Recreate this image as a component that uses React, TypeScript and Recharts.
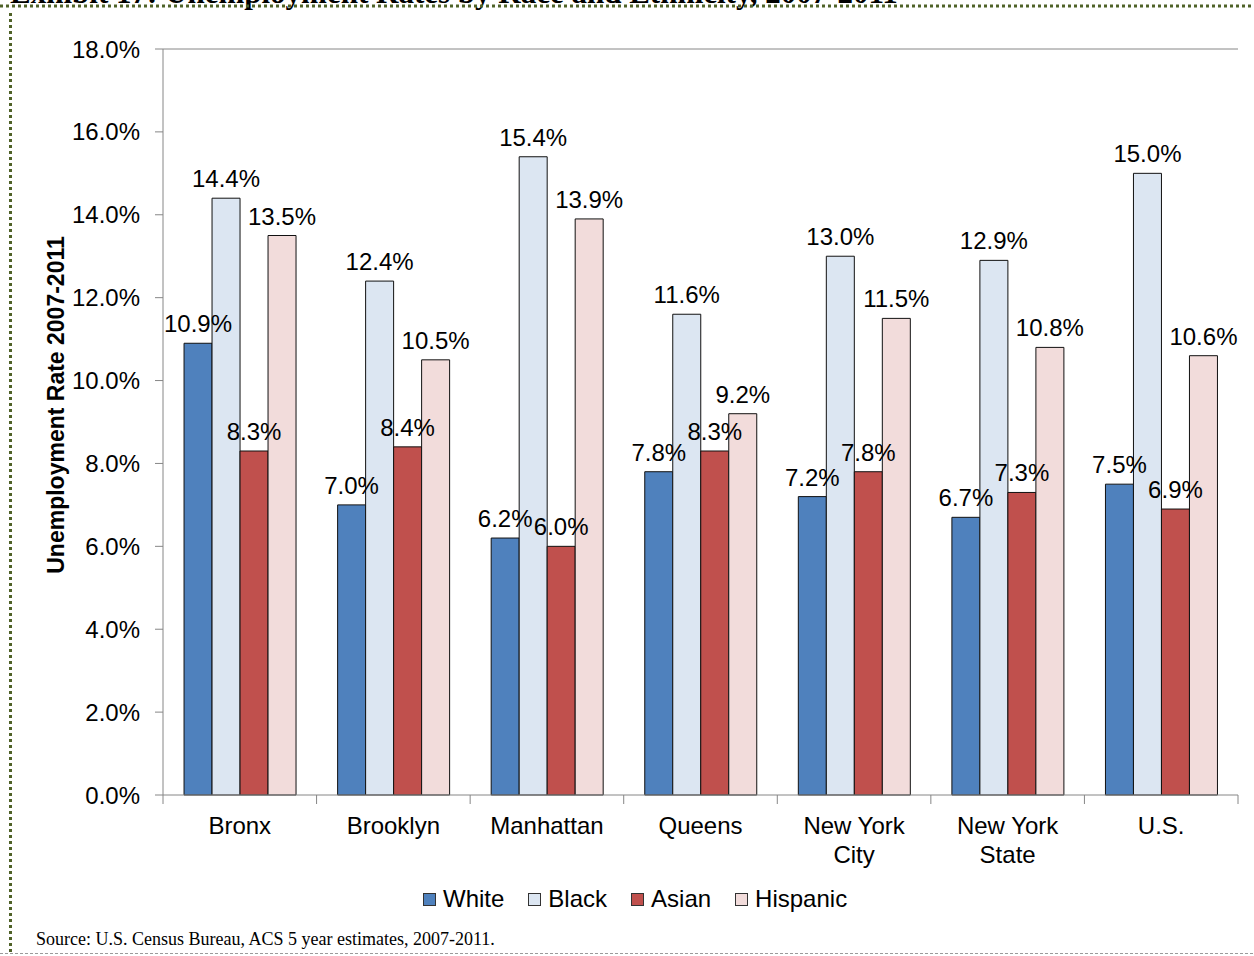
import { BarChart, Bar, XAxis, YAxis, LabelList, ReferenceLine } from "recharts"

const areas = ["Bronx", "Brooklyn", "Manhattan", "Queens", "New York\nCity", "New York\nState", "U.S."]
const white = [10.9, 7.0, 6.2, 7.8, 7.2, 6.7, 7.5]
const black = [14.4, 12.4, 15.4, 11.6, 13.0, 12.9, 15.0]
const asian = [8.3, 8.4, 6.0, 8.3, 7.8, 7.3, 6.9]
const hispanic = [13.5, 10.5, 13.9, 9.2, 11.5, 10.8, 10.6]
const yTicks = [0, 2, 4, 6, 8, 10, 12, 14, 16, 18]

const series = [
  { key: "White", fill: "#4F81BD" },
  { key: "Black", fill: "#DCE6F2" },
  { key: "Asian", fill: "#C0504D" },
  { key: "Hispanic", fill: "#F2DCDB" },
]

const data = areas.map((name, i) => ({
  name,
  White: white[i],
  Black: black[i],
  Asian: asian[i],
  Hispanic: hispanic[i],
}))

const FONT = '"Liberation Sans", Arial, sans-serif'
const SERIF = '"Liberation Serif", "Times New Roman", serif'
const PLOT_LEFT = 163
const PLOT_RIGHT = 1238
const BAND = (PLOT_RIGHT - PLOT_LEFT) / areas.length
const AXIS = "#868686"

const pct = (v: number) => `${v.toFixed(1)}%`

function AreaTick(props: any) {
  const { x, y, payload, index } = props
  const lines = String(payload.value).split("\n")
  return (
    <g>
      <line x1={x - BAND / 2} y1={y} x2={x - BAND / 2} y2={y + 9} stroke={AXIS} />
      {index === areas.length - 1 && (
        <line x1={x + BAND / 2} y1={y} x2={x + BAND / 2} y2={y + 9} stroke={AXIS} />
      )}
      <text x={x} y={y + 39} textAnchor="middle" fontSize={24} fontFamily={FONT} fill="#000">
        {lines.map((l, i) => (
          <tspan key={i} x={x} dy={i === 0 ? 0 : 29}>
            {l}
          </tspan>
        ))}
      </text>
    </g>
  )
}

export default function App() {
  return (
    <div style={{ position: "absolute", left: 0, top: 0, width: 1254, height: 956, background: "#fff", overflow: "hidden" }}>
      {/* exhibit title, mostly above the top edge like in the scan */}
      <div
        style={{
          position: "absolute",
          left: 10,
          top: -23,
          fontFamily: SERIF,
          fontWeight: "bold",
          fontSize: 31,
          lineHeight: "31px",
          whiteSpace: "nowrap",
        }}
      >
        Exhibit 17: Unemployment Rates by Race and Ethnicity, 2007-2011
      </div>
      <svg width={1254} height={956} style={{ position: "absolute", left: 0, top: 0 }}>
        <line x1={0} y1={6} x2={1254} y2={6} stroke="#4F6228" strokeWidth={3} strokeDasharray="3 3" />
        <line x1={10.5} y1={13} x2={10.5} y2={952} stroke="#4F6228" strokeWidth={3} strokeDasharray="3 3" />
        <line x1={0} y1={953.5} x2={1254} y2={953.5} stroke="#9a9a9a" strokeWidth={1} strokeDasharray="3 2" />
      </svg>
      <div style={{ position: "absolute", left: 0, top: 0 }}>
        <BarChart
          width={1254}
          height={956}
          data={data}
          margin={{ top: 49, right: 1254 - PLOT_RIGHT, left: PLOT_LEFT - 100, bottom: 101 }}
          barCategoryGap="13.7%"
          barGap={0}
        >
          <XAxis
            dataKey="name"
            interval={0}
            height={60}
            tickSize={0}
            tickMargin={0}
            tickLine={false}
            axisLine={{ stroke: AXIS }}
            tick={<AreaTick />}
          />
          <YAxis
            yAxisId="left"
            width={100}
            domain={[0, 18]}
            ticks={yTicks}
            tickFormatter={pct}
            tickSize={8}
            tickMargin={15}
            axisLine={{ stroke: AXIS }}
            tickLine={{ stroke: AXIS }}
            tick={{ fill: "#000", fontSize: 24, fontFamily: FONT }}
          />
          <YAxis
            yAxisId="right"
            orientation="right"
            width={0}
            domain={[0, 18]}
            tick={false}
            tickLine={false}
            axisLine={{ stroke: AXIS }}
          />
          <ReferenceLine yAxisId="left" y={18} stroke={AXIS} />
          {series.map((s) => (
            <Bar
              key={s.key}
              yAxisId="left"
              dataKey={s.key}
              fill={s.fill}
              stroke="#111"
              strokeWidth={1}
              isAnimationActive={false}
            >
              <LabelList
                dataKey={s.key}
                position="top"
                offset={11}
                formatter={(v: any) => pct(Number(v))}
                fill="#000"
                fontSize={24}
                fontFamily={FONT}
              />
            </Bar>
          ))}
          <text
            x={64}
            y={405}
            transform="rotate(-90, 64, 405)"
            textAnchor="middle"
            fontSize={23}
            fontWeight="bold"
            fontFamily={FONT}
            fill="#000"
          >
            Unemployment Rate 2007-2011
          </text>
        </BarChart>
      </div>
      <div
        style={{
          position: "absolute",
          left: 423,
          top: 885,
          display: "flex",
          alignItems: "center",
          fontFamily: FONT,
          fontSize: 24,
          lineHeight: "28px",
        }}
      >
        {series.map((s) => (
          <div key={s.key} style={{ display: "flex", alignItems: "center", marginRight: 24 }}>
            <span
              style={{
                display: "inline-block",
                width: 11,
                height: 11,
                background: s.fill,
                border: "1px solid #333",
                marginRight: 7,
              }}
            />
            <span>{s.key}</span>
          </div>
        ))}
      </div>
      <div
        style={{
          position: "absolute",
          left: 36,
          top: 929,
          fontFamily: SERIF,
          fontSize: 18,
          lineHeight: "20px",
          whiteSpace: "nowrap",
        }}
      >
        Source: U.S. Census Bureau, ACS 5 year estimates, 2007-2011.
      </div>
    </div>
  )
}
